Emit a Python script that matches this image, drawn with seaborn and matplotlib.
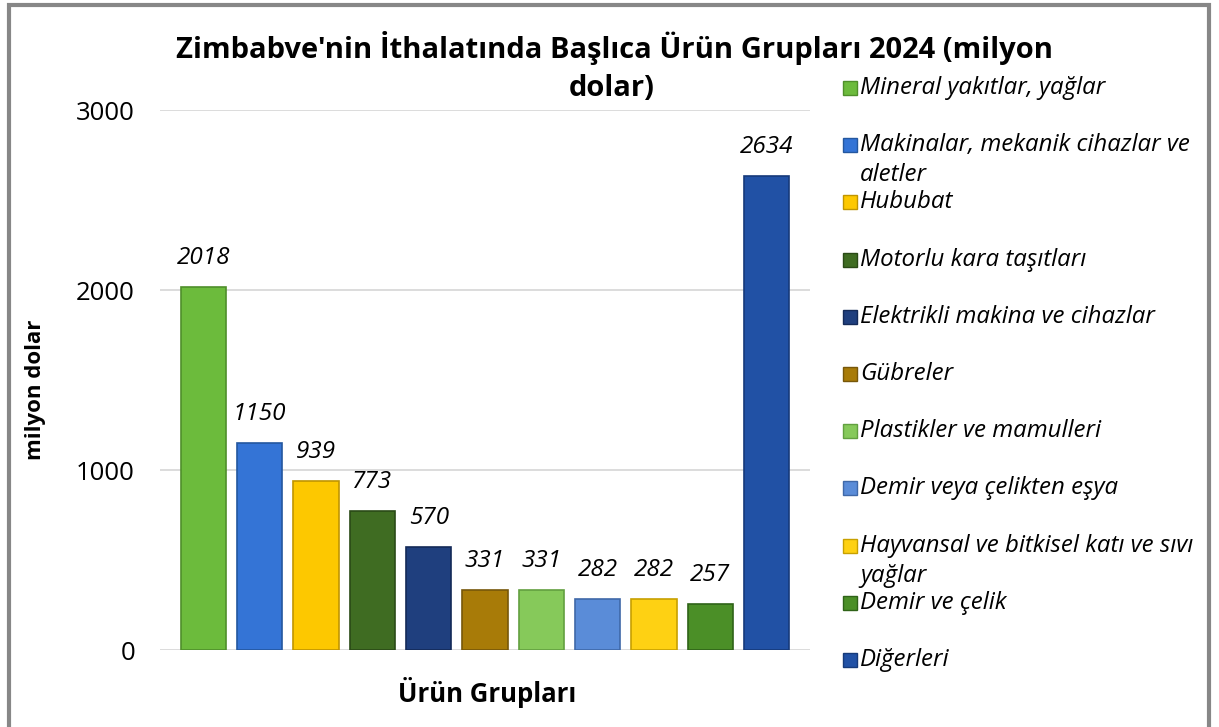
import textwrap
import matplotlib
matplotlib.use("Agg")
import matplotlib.pyplot as plt
from matplotlib.patches import Rectangle
import seaborn as sns

categories = [
    "Mineral yakıtlar, yağlar",
    "Makinalar, mekanik cihazlar ve aletler",
    "Hububat",
    "Motorlu kara taşıtları",
    "Elektrikli makina ve cihazlar",
    "Gübreler",
    "Plastikler ve mamulleri",
    "Demir veya çelikten eşya",
    "Hayvansal ve bitkisel katı ve sıvı yağlar",
    "Demir ve çelik",
    "Diğerleri",
]
values = [2018, 1150, 939, 773, 570, 331, 331, 282, 282, 257, 2634]
colors = ["#6cbb3c", "#3474d6", "#fdc800", "#3f6c22", "#1f3f7e", "#a87b08",
          "#86c95a", "#5a8cd8", "#fed113", "#4b8f27", "#2151a5"]
edge_colors = ["#4f8f2a", "#24579f", "#c09500", "#2a4a16", "#142a58", "#77570a",
               "#62a040", "#3f68a8", "#c7a000", "#2f6318", "#163a7a"]
yticks = [0, 1000, 2000, 3000]
title_lines = ["Zimbabve'nin İthalatında Başlıca Ürün Grupları 2024 (milyon", "dolar)"]
xlabel = "Ürün Grupları"
ylabel = "milyon dolar"

sns.set_theme(style="white")
plt.rcParams["font.family"] = ["Open Sans", "DejaVu Sans"]

W, H = 1219, 727
fig = plt.figure(figsize=(W / 100, H / 100), dpi=100)
ax = fig.add_axes([160 / W, 1 - 650 / H, 650 / W, 540 / H])

sns.barplot(x=categories, y=values, hue=categories, palette=colors,
            legend=False, width=0.8, ax=ax, linewidth=1.2, saturation=1)
for p, ec in zip(ax.patches, edge_colors):
    p.set_edgecolor(ec)

ax.set_xlim(-0.77, len(categories) - 1 + 0.77)
ax.set_ylim(0, 3000)
ax.set_yticks(yticks)
ax.set_yticklabels([str(t) for t in yticks], fontsize=18.5, color="#000000")
ax.tick_params(axis="y", length=0, pad=18)
ax.set_xticks([])
ax.yaxis.grid(True, color="#d9d9d9", linewidth=1.3)
ax.set_axisbelow(True)
for s in ax.spines.values():
    s.set_visible(False)

for i, v in enumerate(values):
    ax.annotate(str(v), (i, v), xytext=(0, 21), textcoords="offset points",
                ha="center", va="center", fontsize=17.5, fontstyle="italic",
                color="#000000")

ax.set_xlabel(xlabel, fontsize=18.5, fontweight="bold", color="#000000")
ax.xaxis.set_label_coords((487 - 160) / 650, -(692 - 650) / 540)
ax.xaxis.label.set_va("center")
ax.set_ylabel(ylabel, fontsize=16, fontweight="bold", color="#000000")
ax.yaxis.set_label_coords((35 - 160) / 650, (650 - 390) / 540)
ax.yaxis.label.set_va("center")

for j, (line, xc) in enumerate(zip(title_lines, [614, 612])):
    fig.text(xc / W, 1 - (48 + 40 * j) / H, line, ha="center", va="center",
             fontsize=21, fontweight="bold", color="#000000")

# legend
for i, (lab, c, ec) in enumerate(zip(categories, colors, edge_colors)):
    yc = 88 + 57.2 * i
    fig.patches.append(Rectangle((843 / W, 1 - (yc + 7) / H), 14 / W, 14 / H,
                                 transform=fig.transFigure, facecolor=c,
                                 edgecolor=ec, linewidth=1))
    for j, line in enumerate(textwrap.wrap(lab, 34)):
        fig.text(860 / W, 1 - (yc + 30 * j) / H, line, ha="left", va="center",
                 fontsize=17.3, fontstyle="italic", color="#000000")

fig.patches.append(Rectangle((9 / W, -0.02), 1200 / W, 1.02 - 5 / H,
                             transform=fig.transFigure, fill=False,
                             edgecolor="#878787", linewidth=3))

fig.savefig("out.png", dpi=100)
